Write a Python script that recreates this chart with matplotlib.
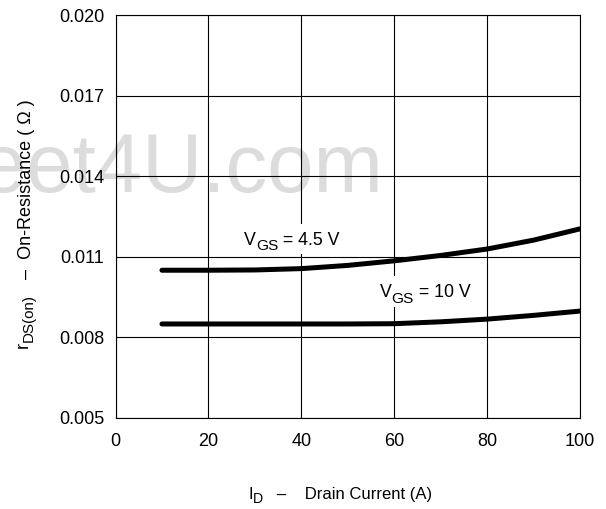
"""
    On-resistance vs drain current, for two gate voltages.
"""

import matplotlib.pyplot as plt
from matplotlib.patches import Rectangle
from matplotlib.transforms import Bbox

plt.rcParams['font.family'] = ['Liberation Sans', 'DejaVu Sans']

# drain current, in A
i_d = [10, 20, 30, 40, 50, 60, 70, 80, 90, 100]
# r_DS(on), in ohm
r_vgs_4v5 = [0.01050, 0.01050, 0.01051, 0.01056, 0.01068, 0.01085, 0.01105, 0.01129, 0.01162, 0.01204]
r_vgs_10v = [0.00850, 0.00850, 0.00850, 0.00850, 0.00850, 0.00851, 0.00858, 0.00868, 0.00882, 0.00898]

x_ticks = [0, 20, 40, 60, 80, 100]
y_ticks = [0.005, 0.008, 0.011, 0.014, 0.017, 0.020]


def chain_text(ax, xy, xycoords, pieces, rotation=0):
    """
    Write text pieces one after another along the reading direction.
    Each piece is (text, fontsize, drop in points below the first baseline),
    so subscripts can be set at their own size.
    """
    out = []
    first = None
    for s, size, drop in pieces:
        if rotation == 0:
            off = (0, -drop)
            ha, va = 'left', ('baseline' if first is None else 'bottom')
        else:
            off = (drop, 0)
            ha, va = 'right', 'bottom'
        if first is None:
            t = ax.annotate(s, xy=xy, xycoords=xycoords, xytext=off,
                            textcoords='offset points', ha=ha, va=va,
                            fontsize=size, rotation=rotation,
                            annotation_clip=False, zorder=4)
            first = t
        else:
            if rotation == 0:
                coords, where = (out[-1], first), (1, 0)
            else:
                coords, where = (first, out[-1]), (1, 1)
            t = ax.annotate(s, xy=where, xycoords=coords, xytext=off,
                            textcoords='offset points', ha=ha, va=va,
                            fontsize=size, rotation=rotation,
                            annotation_clip=False, zorder=4)
        out.append(t)
    return out


def white_box(ax, texts, pad_x, pad_top, pad_bottom):
    """White patch under a group of texts, so the grid stops around them (pads in px)."""
    fig = ax.figure
    fig.canvas.draw()
    rend = fig.canvas.get_renderer()
    bb = Bbox.union([t.get_window_extent(rend) for t in texts])
    to_ax = ax.transAxes.inverted()
    (x0, y0), (x1, y1) = to_ax.transform([[bb.x0 - pad_x, bb.y0 - pad_bottom],
                                          [bb.x1 + pad_x, bb.y1 + pad_top]])
    ax.add_patch(Rectangle((x0, y0), x1 - x0, y1 - y0, transform=ax.transAxes,
                           facecolor='white', edgecolor='none', zorder=2.5))


def main() -> None:
    fig = plt.figure(figsize=(6.06, 5.09), dpi=100)
    ax = fig.add_axes([0.1906, 0.1788, 0.7665, 0.7917])

    # faint site stamp behind the grid
    ax.text(383 / 606, 1 - 192 / 509, 'Sheet4U.com', transform=fig.transFigure,
            ha='right', va='baseline', fontsize=60, color='#dcdcdc',
            zorder=0, clip_on=False)

    ax.plot(i_d, r_vgs_4v5, color='black', lw=3.6, solid_capstyle='round', zorder=3)
    ax.plot(i_d, r_vgs_10v, color='black', lw=3.6, solid_capstyle='round', zorder=3)

    lab_45 = chain_text(ax, (27.66, 0.01145), 'data',
                        [('V', 12.8, 0), ('GS', 11.1, 2.9), (' = 4.5 V', 12.8, 0)])
    lab_10 = chain_text(ax, (56.88, 0.00950), 'data',
                        [('V', 12.8, 0), ('GS', 11.1, 3.2), (' = 10 V', 12.8, 0)])

    ax.set_xlim(0, 100)
    ax.set_ylim(0.005, 0.020)
    ax.set_xticks(x_ticks)
    ax.set_yticks(y_ticks)
    ax.set_yticklabels([f'{v:.3f}' for v in y_ticks])
    ax.tick_params(axis='both', length=0, labelsize=13)
    ax.tick_params(axis='x', pad=11)
    ax.tick_params(axis='y', pad=8)
    ax.grid(True, color='black', lw=0.8)
    for s in ax.spines.values():
        s.set_linewidth(0.8)

    # axis titles, with near full-size subscripts
    chain_text(ax, (31.5 / 606, 1 - 348 / 509), 'figure fraction',
               [('r', 13, 0), ('DS(on)', 10.9, 3.4), ('   –  On-Resistance ( Ω )', 13, 2.2)],
               rotation=90)
    chain_text(ax, (248.5 / 606, 1 - 499 / 509), 'figure fraction',
               [('I', 12, 0), ('D', 10.2, 3.2), ('   –    Drain Current (A)', 12, 0)])

    white_box(ax, lab_45, pad_x=13, pad_top=8, pad_bottom=1)
    white_box(ax, lab_10, pad_x=13, pad_top=8, pad_bottom=1)

    fig.savefig('out.png', dpi=100)


if __name__ == "__main__":
    main()
